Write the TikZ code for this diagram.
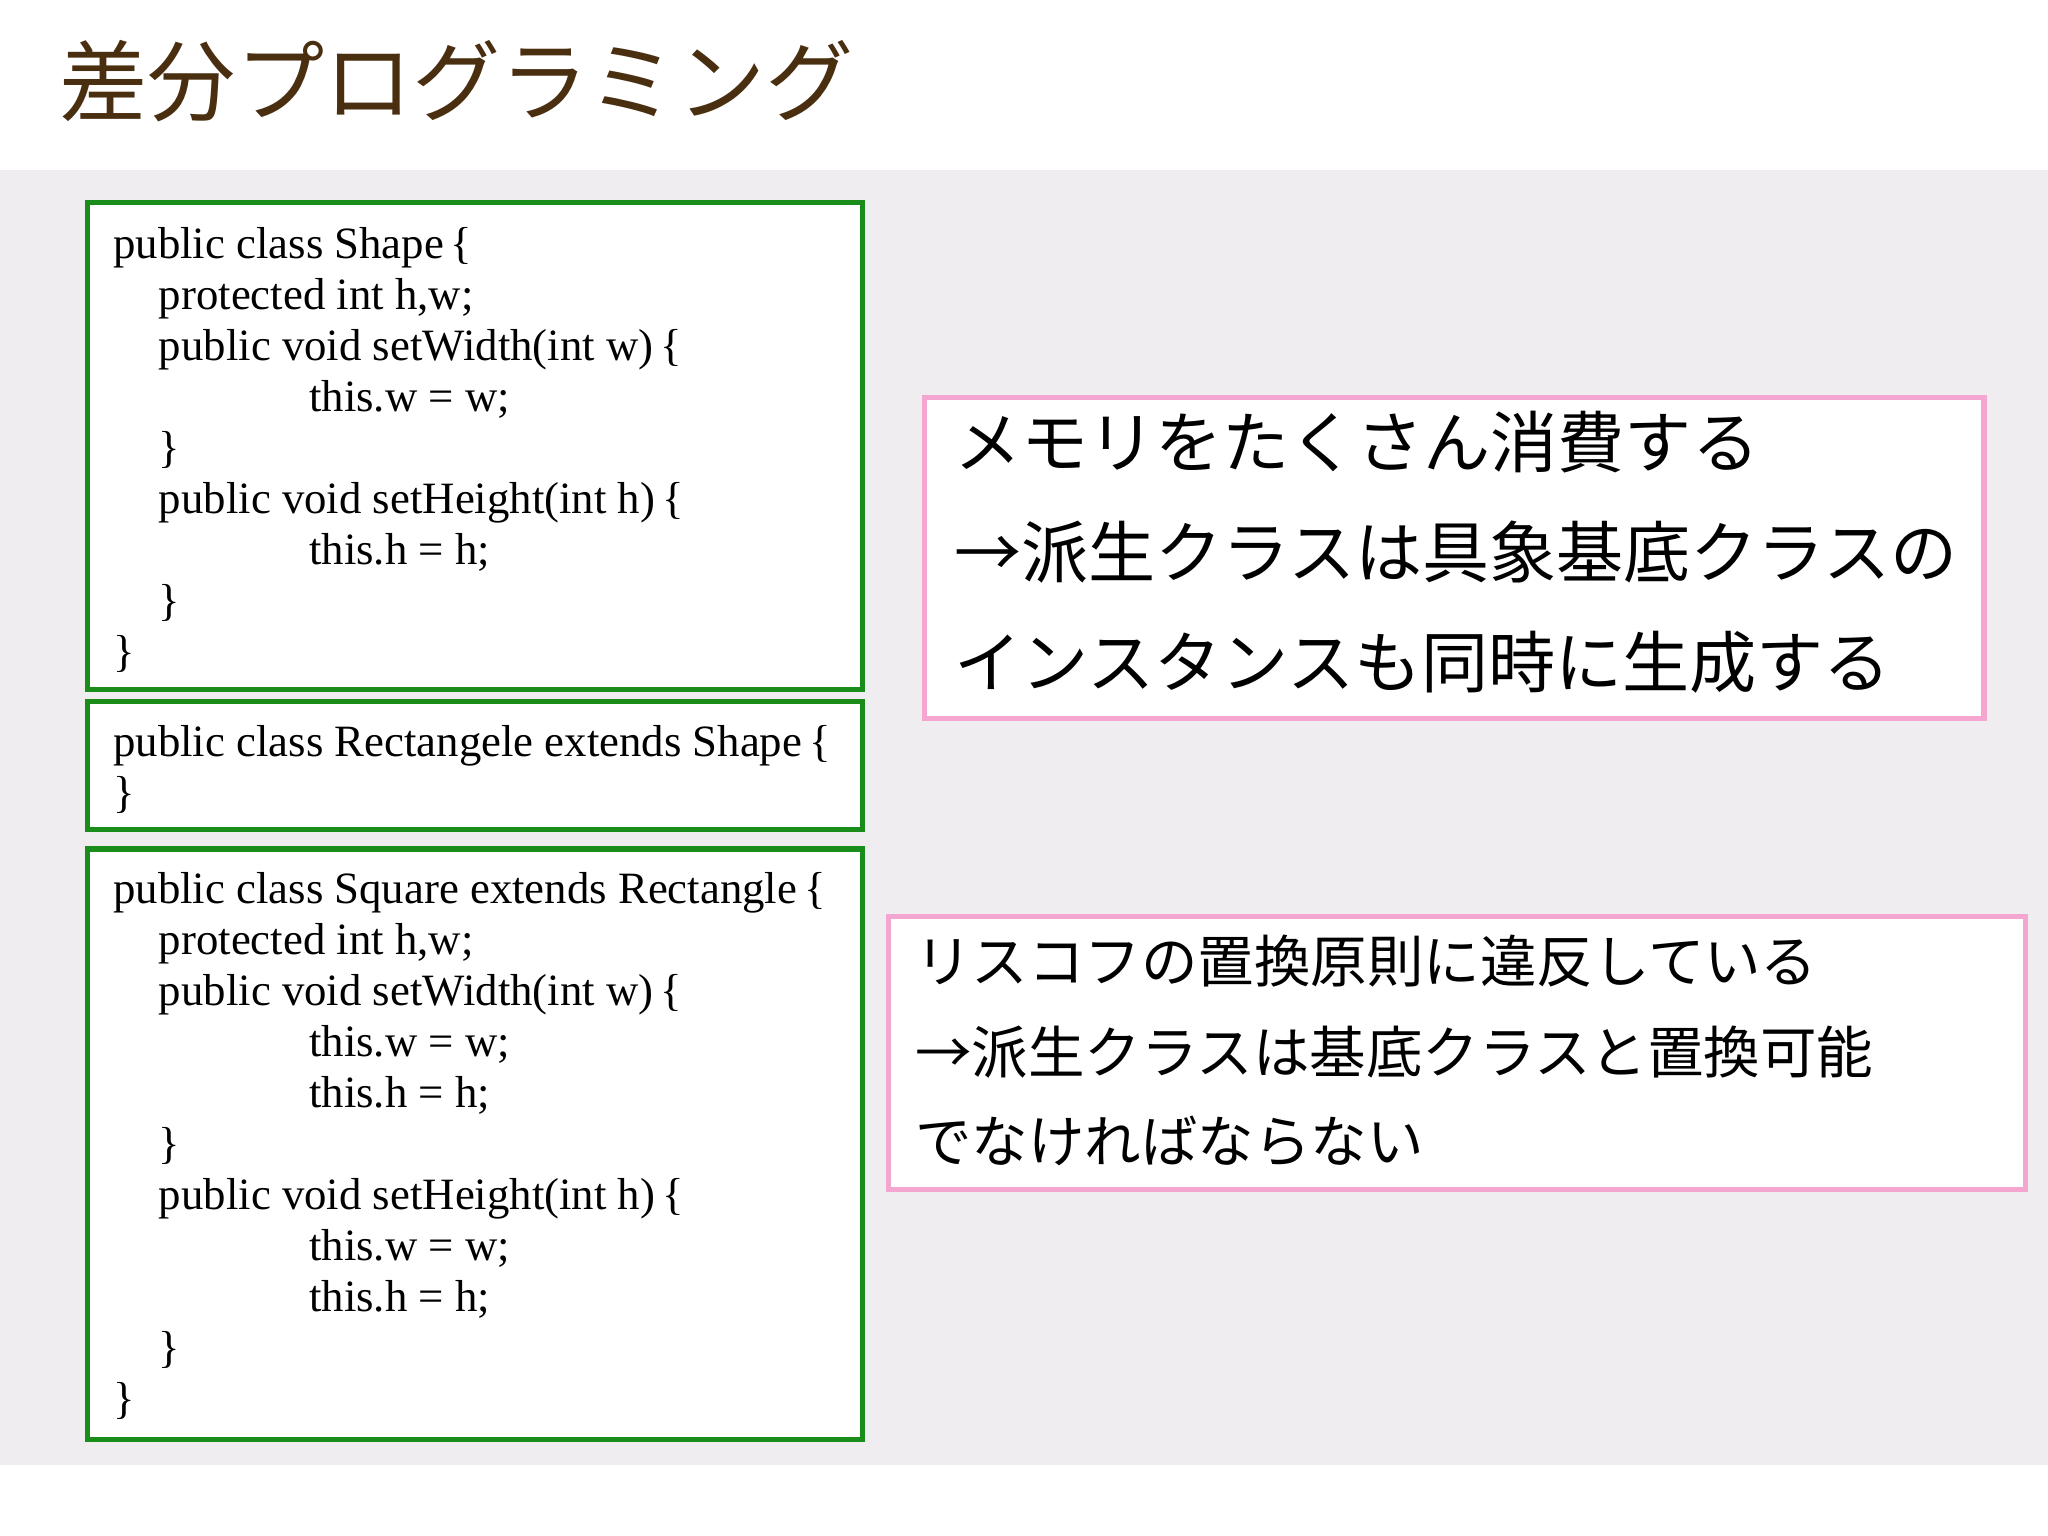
\documentclass[tikz,border=0pt]{standalone}
\usepackage{fontspec}
\setmainfont{Liberation Serif}
\newfontfamily\jp{Noto Sans CJK JP}
\definecolor{bandgray}{HTML}{EFEDEF}
\definecolor{codegreen}{HTML}{1A8C1A}
\definecolor{boxpink}{HTML}{F4A6D0}
\definecolor{titlebrown}{HTML}{4A2E10}
\newcommand{\ob}{\kern1.5pt\{}
\begin{document}
\begin{tikzpicture}[x=0.01cm,y=-0.01cm,
  codebox/.style={draw=codegreen,line width=1.1pt,fill=white},
  pinkbox/.style={draw=boxpink,line width=1.1pt,fill=white},
  code/.style={anchor=base west,inner sep=0pt,font=\fontsize{9.75}{11}\selectfont},
  jpbig/.style={anchor=base west,inner sep=0pt,font=\jp\fontsize{14.6}{17}\selectfont},
  jpmid/.style={anchor=base west,inner sep=0pt,font=\jp\fontsize{12.3}{14}\selectfont}]
\useasboundingbox (0,0) rectangle (1568,1176);
\fill[white] (0,0) rectangle (1568,1176);
\fill[bandgray] (0,130) rectangle (1568,1122);
\node[anchor=base west,inner sep=0pt,text=titlebrown,font=\jp\fontsize{19.2}{22}\selectfont] (title) at (45,88) {差分プログラミング};
\draw[codebox] (67,155) rectangle (660,528);
\draw[codebox] (67,537) rectangle (660,635);
\draw[codebox] (67,650) rectangle (660,1102);
\draw[pinkbox] (708,304) rectangle (1519,550);
\draw[pinkbox] (680,702) rectangle (1551,911);
% box 1
\node[code] (a1) at (86,198) {public class Shape\ob};
\node[code] (a2) at (121,237) {protected int h,w;};
\node[code] (a3) at (121,276) {public void setWidth(int w)\ob};
\node[code] (a4) at (236,315) {this.w = w;};
\node[code] (a5) at (121,354) {\}};
\node[code] (a6) at (121,393) {public void setHeight(int h)\ob};
\node[code] (a7) at (236,432) {this.h = h;};
\node[code] (a8) at (121,471) {\}};
\node[code] (a9) at (86,510) {\}};
% box 2
\node[code] (b1) at (86,579) {public class Rectangele extends Shape\ob};
\node[code] (b2) at (86,618) {\}};
% box 3
\node[code] (c1) at (86,692) {public class Square extends Rectangle\ob};
\node[code] (c2) at (121,731) {protected int h,w;};
\node[code] (c3) at (121,770) {public void setWidth(int w)\ob};
\node[code] (c4) at (236,809) {this.w = w;};
\node[code] (c5) at (236,848) {this.h = h;};
\node[code] (c6) at (121,887) {\}};
\node[code] (c7) at (121,926) {public void setHeight(int h)\ob};
\node[code] (c8) at (236,965) {this.w = w;};
\node[code] (c9) at (236,1004) {this.h = h;};
\node[code] (c10) at (121,1043) {\}};
\node[code] (c11) at (86,1082) {\}};
% pink 1
\node[jpbig] (p1) at (730,358) {メモリをたくさん消費する};
\node[jpbig] (p2) at (730,442) {→派生クラスは具象基底クラスの};
\node[jpbig] (p3) at (730,526) {インスタンスも同時に生成する};
% pink 2
\node[jpmid] (q1) at (700,752) {リスコフの置換原則に違反している};
\node[jpmid] (q2) at (700,822) {→派生クラスは基底クラスと置換可能};
\node[jpmid] (q3) at (700,890) {でなければならない};
\end{tikzpicture}
\end{document}
